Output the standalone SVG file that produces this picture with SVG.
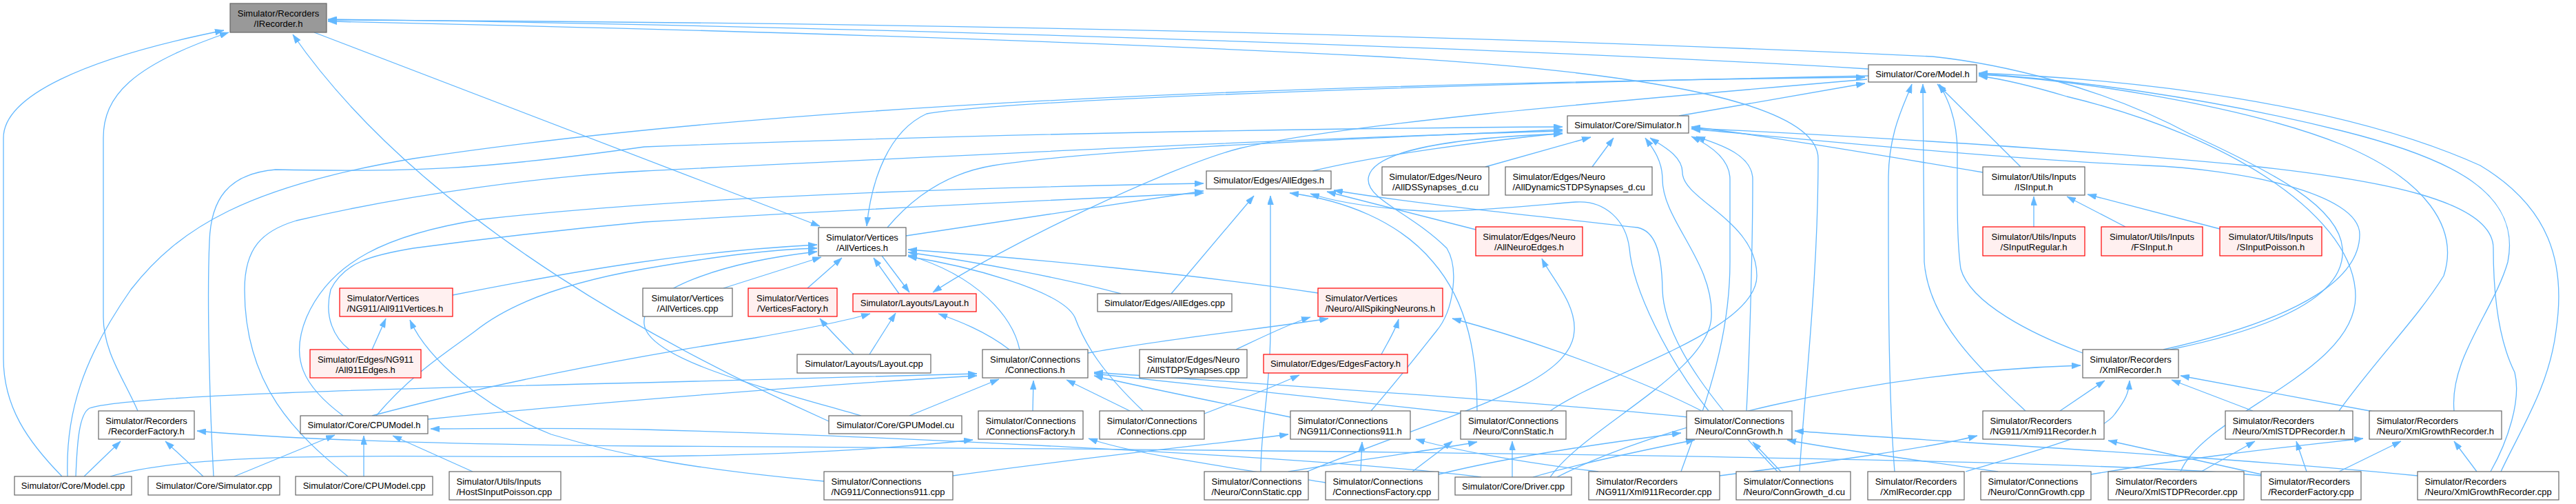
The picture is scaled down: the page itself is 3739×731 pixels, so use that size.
<svg xmlns="http://www.w3.org/2000/svg" width="3739" height="731" viewBox="0 0 3739 731">
<defs>
<style>
.e path{fill:none;stroke:#63b8ff;stroke-width:1.3;marker-end:url(#ah)}
.node rect{stroke-width:1.2}
.n rect{fill:#ffffff;stroke:#666666}
.r rect{fill:#fff0f0;stroke:#ff0000}
.g rect{fill:#999999;stroke:#666666}
.node text{font-family:"Liberation Sans",Arial,sans-serif;font-size:13px;fill:#000000}
.c{text-anchor:middle}
.l{text-anchor:start}
</style>
<marker id="ah" viewBox="0 0 13 9" refX="13" refY="4.5" markerWidth="13" markerHeight="9" markerUnits="userSpaceOnUse" orient="auto" preserveAspectRatio="none">
<path d="M0,0 L13,4.5 L0,9 z" fill="#63b8ff" stroke="#63b8ff" stroke-width="0.5"/>
</marker>
</defs>
<rect x="0" y="0" width="3739" height="731" fill="#ffffff"/>
<g id="edges" class="e">
<path d="M2712,100 C2300,75 1300,38 476,28"/>
<path d="M3150,507 C3330,470 3405,420 3400,360 C3395,300 3300,250 3180,195 C3050,125 2900,92 2805,82 C2000,45 1200,32 476,29"/>
<path d="M2612,684 C2620,560 2639,400 2639,230 C2639,170 2500,110 2000,82 C1500,56 900,40 476,31"/>
<path d="M90,691 C40,640 5,590 5,520 L5,200 C5,140 120,85 325,44"/>
<path d="M200,596 C180,550 150,510 150,460 L150,200 C150,140 190,95 332,47"/>
<path d="M1203,611 C1000,520 620,330 425,50"/>
<path d="M2437,168 L2707,121"/>
<path d="M2933,242 L2812,122"/>
<path d="M2750,684 C2740,560 2741,380 2741,260 C2741,190 2765,150 2775,122"/>
<path d="M3023,512 C2950,485 2860,440 2846,390 C2840,350 2841,280 2841,220 C2841,170 2825,140 2815,122"/>
<path d="M2940,596 C2880,540 2800,470 2793,380 L2791,122"/>
<path d="M3165,684 C3200,600 3419,540 3419,430 C3419,320 3250,200 3000,140 C2950,125 2910,115 2872,110"/>
<path d="M3395,596 C3450,520 3510,460 3547,400 C3570,330 3520,260 3400,210 C3250,150 3000,115 2872,108"/>
<path d="M3562,596 C3555,520 3620,450 3640,380 C3660,280 3560,230 3400,190 C3200,140 3000,115 2872,107"/>
<path d="M3630,684 C3660,620 3700,560 3710,480 C3725,380 3700,300 3600,240 C3400,150 3100,115 2872,106"/>
<path d="M98,691 C95,600 120,520 190,420 C260,330 360,270 600,230 C1000,170 1600,125 2707,112"/>
<path d="M2710,115 C2300,150 1950,180 1800,215 C1700,240 1450,360 1354,424"/>
<path d="M2712,110 C2300,118 1500,140 1345,165 C1290,190 1265,260 1258,328"/>
<path d="M505,691 C430,630 355,560 355,420 C355,360 380,335 430,320 C600,280 800,255 935,248 C1400,225 1900,200 2268,190"/>
<path d="M456,47 L1190,328"/>
<path d="M1050,418 L1192,373"/>
<path d="M1172,418 L1222,374"/>
<path d="M1305,426 L1268,374"/>
<path d="M1280,371 L1320,424"/>
<path d="M657,428 C850,390 1000,365 1186,355"/>
<path d="M546,603 C600,540 650,510 690,480 C740,440 820,410 935,390 C1050,370 1120,362 1186,360"/>
<path d="M1913,425 C1750,400 1500,375 1318,362"/>
<path d="M1627,426 C1550,405 1420,380 1318,366"/>
<path d="M1480,507 C1470,460 1420,400 1318,370"/>
<path d="M1659,596 C1600,540 1575,500 1560,460 C1540,420 1400,385 1318,372"/>
<path d="M1250,603 C1100,560 940,520 935,470 C930,420 1050,380 1186,365"/>
<path d="M1315,342 L1747,277"/>
<path d="M498,603 C440,560 420,520 445,460 C480,380 560,340 700,318 C1000,285 1400,272 1747,266"/>
<path d="M507,507 C485,490 470,460 480,420 C500,380 540,370 600,360 C750,340 850,330 935,322 C1300,300 1600,287 1747,280"/>
<path d="M1700,426 L1820,284"/>
<path d="M2142,333 L1926,278"/>
<path d="M1830,684 C1830,620 1844,560 1844,480 L1844,284"/>
<path d="M2144,596 C2144,520 2132,440 2080,380 C2030,320 1950,290 1872,280"/>
<path d="M2480,596 C2420,520 2370,420 2365,360 C2360,320 2330,290 2287,293 C2200,300 2100,310 2050,305 C1980,300 1930,290 1902,281"/>
<path d="M2580,684 C2500,600 2415,500 2413,420 C2412,360 2400,335 2377,330 C2200,310 2050,295 1936,276"/>
<path d="M1288,330 C1330,280 1380,250 1442,240 C1600,215 2000,200 2268,188"/>
<path d="M1905,248 C2000,225 2150,205 2268,193"/>
<path d="M310,691 C305,600 300,440 304,350 C306,290 330,252 400,246 C600,250 700,246 935,213 C1400,195 1900,186 2268,184"/>
<path d="M1990,596 C2030,550 2065,505 2085,480 C2110,450 2118,390 2100,360 C2050,310 1985,290 1986,260 C1988,220 2100,200 2268,194"/>
<path d="M2156,242 L2309,199"/>
<path d="M2311,242 L2342,200"/>
<path d="M2250,692 C2300,620 2480,540 2484,460 C2488,380 2413,320 2413,260 C2413,230 2395,210 2388,200"/>
<path d="M2250,596 C2330,540 2550,480 2550,400 C2550,320 2442,290 2442,250 C2442,225 2410,210 2395,200"/>
<path d="M2535,596 C2540,500 2544,350 2544,260 C2544,220 2480,205 2462,198"/>
<path d="M2440,684 C2470,600 2511,500 2511,380 L2511,260 C2511,225 2470,205 2455,198"/>
<path d="M2878,250 C2700,220 2550,195 2455,184"/>
<path d="M3140,507 C3350,460 3425,400 3425,340 C3425,280 3250,245 3115,240 C2900,230 2600,200 2455,187"/>
<path d="M3615,684 C3640,640 3660,580 3650,540 C3630,500 3619,440 3619,360 C3619,290 3450,260 3260,240 C3000,215 2650,195 2455,186"/>
<path d="M2952,329 L2952,285"/>
<path d="M3085,329 L3000,285"/>
<path d="M3222,332 L3030,282"/>
<path d="M1262,514 L1300,454"/>
<path d="M1465,507 C1430,480 1390,465 1362,455"/>
<path d="M540,603 C700,560 900,520 1096,490 C1180,475 1230,465 1263,455"/>
<path d="M1239,514 C1225,500 1205,480 1190,462"/>
<path d="M1748,600 C1800,580 1850,560 1886,544"/>
<path d="M110,691 C112,640 115,600 130,592 C180,575 500,565 935,555 C1150,550 1300,545 1418,542"/>
<path d="M621,608 C800,590 1150,560 1418,545"/>
<path d="M1320,603 L1450,550"/>
<path d="M1499,596 L1500,552"/>
<path d="M1640,596 L1548,551"/>
<path d="M1873,605 C1750,580 1650,560 1588,545"/>
<path d="M2125,600 C1950,580 1750,560 1588,542"/>
<path d="M2450,605 C2200,580 1800,555 1588,540"/>
<path d="M1579,512 C1700,490 1850,475 1928,462"/>
<path d="M1794,507 C1830,490 1870,470 1902,460"/>
<path d="M1895,685 C2100,600 2281,560 2285,480 C2288,440 2250,400 2238,375"/>
<path d="M2470,596 C2400,560 2250,500 2108,462"/>
<path d="M2005,514 C2015,495 2025,480 2030,463"/>
<path d="M160,691 C300,650 600,665 935,662 C1150,660 1300,650 1412,638"/>
<path d="M1924,700 C1800,680 1650,660 1580,636"/>
<path d="M1975,684 L1977,641"/>
<path d="M2320,684 C2200,670 2100,650 2055,637"/>
<path d="M1383,690 C1600,660 1800,640 1870,630"/>
<path d="M2050,684 L2108,640"/>
<path d="M1870,684 C1950,670 2100,650 2144,641"/>
<path d="M2195,692 L2195,640"/>
<path d="M2088,688 C2200,660 2350,640 2440,628"/>
<path d="M2225,692 C2300,670 2400,650 2460,638"/>
<path d="M2585,684 L2544,641"/>
<path d="M2900,684 C2800,670 2650,650 2594,638"/>
<path d="M3509,690 C3200,660 2800,640 2605,625"/>
<path d="M540,507 L560,462"/>
<path d="M1196,698 C1000,680 900,660 800,630 C700,590 620,520 595,464"/>
<path d="M340,691 L486,631"/>
<path d="M528,691 L528,632"/>
<path d="M686,684 L570,632"/>
<path d="M2150,692 C1900,660 1200,630 935,623 C800,620 700,622 625,622"/>
<path d="M122,691 L175,640"/>
<path d="M295,691 L240,640"/>
<path d="M3282,690 C3000,660 1500,650 935,647 C700,645 450,640 286,625"/>
<path d="M2990,596 L3055,552"/>
<path d="M2853,684 C2950,655 3050,630 3070,600 C3085,580 3090,570 3091,552"/>
<path d="M3270,596 L3152,551"/>
<path d="M3445,597 L3165,545"/>
<path d="M2260,692 C2400,620 2700,540 3020,530"/>
<path d="M2496,690 C2650,670 2800,650 2870,632"/>
<path d="M3282,688 L3060,639"/>
<path d="M3195,684 L3273,640"/>
<path d="M3348,684 L3333,640"/>
<path d="M3035,688 C3200,660 3350,645 3430,636"/>
<path d="M3395,684 L3485,640"/>
<path d="M3595,684 L3562,640"/>
</g>
<g id="irec" class="node g"><rect x="334" y="5" width="140" height="42"/><text class="c" x="404" y="23.5">Simulator/Recorders</text><text class="c" x="404" y="38.5">/IRecorder.h</text></g>
<g id="modelh" class="node n"><rect x="2712" y="94" width="157" height="25"/><text class="c" x="2790.5" y="111.5">Simulator/Core/Model.h</text></g>
<g id="simh" class="node n"><rect x="2275" y="168" width="176" height="25"/><text class="c" x="2363" y="185.5">Simulator/Core/Simulator.h</text></g>
<g id="alledgesh" class="node n"><rect x="1751" y="248" width="181" height="26"/><text class="c" x="1841.5" y="265.5">Simulator/Edges/AllEdges.h</text></g>
<g id="allds" class="node n"><rect x="2006" y="242" width="155" height="41"/><text class="c" x="2083.5" y="260.5">Simulator/Edges/Neuro</text><text class="c" x="2083.5" y="275.5">/AllDSSynapses_d.cu</text></g>
<g id="alldyn" class="node n"><rect x="2185" y="242" width="213" height="41"/><text class="l" x="2195.5" y="260.5">Simulator/Edges/Neuro</text><text class="l" x="2195.5" y="275.5">/AllDynamicSTDPSynapses_d.cu</text></g>
<g id="isinput" class="node n"><rect x="2878" y="242" width="148" height="41"/><text class="c" x="2952" y="260.5">Simulator/Utils/Inputs</text><text class="c" x="2952" y="275.5">/ISInput.h</text></g>
<g id="sreg" class="node r"><rect x="2878" y="329" width="148" height="42"/><text class="c" x="2952" y="347.5">Simulator/Utils/Inputs</text><text class="c" x="2952" y="362.5">/SInputRegular.h</text></g>
<g id="fsin" class="node r"><rect x="3050" y="329" width="147" height="42"/><text class="c" x="3123.5" y="347.5">Simulator/Utils/Inputs</text><text class="c" x="3123.5" y="362.5">/FSInput.h</text></g>
<g id="spois" class="node r"><rect x="3222" y="329" width="148" height="42"/><text class="c" x="3296" y="347.5">Simulator/Utils/Inputs</text><text class="c" x="3296" y="362.5">/SInputPoisson.h</text></g>
<g id="allvh" class="node n"><rect x="1188" y="330" width="127" height="41"/><text class="c" x="1251.5" y="348.5">Simulator/Vertices</text><text class="c" x="1251.5" y="363.5">/AllVertices.h</text></g>
<g id="allvcpp" class="node n"><rect x="933" y="418" width="130" height="41"/><text class="c" x="998" y="436.5">Simulator/Vertices</text><text class="c" x="998" y="451.5">/AllVertices.cpp</text></g>
<g id="vfact" class="node r"><rect x="1086" y="418" width="129" height="41"/><text class="c" x="1150.5" y="436.5">Simulator/Vertices</text><text class="c" x="1150.5" y="451.5">/VerticesFactory.h</text></g>
<g id="layouth" class="node r"><rect x="1238" y="426" width="179" height="26"/><text class="c" x="1327.5" y="443.5">Simulator/Layouts/Layout.h</text></g>
<g id="alledgescpp" class="node n"><rect x="1593" y="426" width="195" height="26"/><text class="c" x="1690.5" y="443.5">Simulator/Edges/AllEdges.cpp</text></g>
<g id="allneuro" class="node r"><rect x="2142" y="329" width="155" height="42"/><text class="c" x="2219.5" y="347.5">Simulator/Edges/Neuro</text><text class="c" x="2219.5" y="362.5">/AllNeuroEdges.h</text></g>
<g id="spiking" class="node r"><rect x="1913" y="418" width="181" height="41"/><text class="l" x="1923.5" y="436.5">Simulator/Vertices</text><text class="l" x="1923.5" y="451.5">/Neuro/AllSpikingNeurons.h</text></g>
<g id="v911" class="node r"><rect x="493" y="418" width="164" height="41"/><text class="l" x="503.5" y="436.5">Simulator/Vertices</text><text class="l" x="503.5" y="451.5">/NG911/All911Vertices.h</text></g>
<g id="e911" class="node r"><rect x="450" y="507" width="161" height="41"/><text class="c" x="530.5" y="525.5">Simulator/Edges/NG911</text><text class="c" x="530.5" y="540.5">/All911Edges.h</text></g>
<g id="recfacth" class="node n"><rect x="143" y="596" width="139" height="41"/><text class="c" x="212.5" y="614.5">Simulator/Recorders</text><text class="c" x="212.5" y="629.5">/RecorderFactory.h</text></g>
<g id="cpuh" class="node n"><rect x="436" y="603" width="185" height="26"/><text class="c" x="528.5" y="620.5">Simulator/Core/CPUModel.h</text></g>
<g id="modelcpp" class="node n"><rect x="21" y="691" width="170" height="27"/><text class="c" x="106" y="708.5">Simulator/Core/Model.cpp</text></g>
<g id="simcpp" class="node n"><rect x="215" y="691" width="191" height="27"/><text class="c" x="310.5" y="708.5">Simulator/Core/Simulator.cpp</text></g>
<g id="cpucpp" class="node n"><rect x="429" y="691" width="199" height="27"/><text class="c" x="528.5" y="708.5">Simulator/Core/CPUModel.cpp</text></g>
<g id="hostsin" class="node n"><rect x="652" y="684" width="162" height="41"/><text class="l" x="662.5" y="702.5">Simulator/Utils/Inputs</text><text class="l" x="662.5" y="717.5">/HostSInputPoisson.cpp</text></g>
<g id="layoutcpp" class="node n"><rect x="1157" y="514" width="194" height="27"/><text class="c" x="1254" y="531.5">Simulator/Layouts/Layout.cpp</text></g>
<g id="connh" class="node n"><rect x="1426" y="507" width="153" height="41"/><text class="c" x="1502.5" y="525.5">Simulator/Connections</text><text class="c" x="1502.5" y="540.5">/Connections.h</text></g>
<g id="stdpcpp" class="node n"><rect x="1654" y="507" width="156" height="41"/><text class="c" x="1732" y="525.5">Simulator/Edges/Neuro</text><text class="c" x="1732" y="540.5">/AllSTDPSynapses.cpp</text></g>
<g id="edgefact" class="node r"><rect x="1834" y="514" width="209" height="27"/><text class="c" x="1938.5" y="531.5">Simulator/Edges/EdgesFactory.h</text></g>
<g id="gpumodel" class="node n"><rect x="1203" y="603" width="193" height="26"/><text class="c" x="1299.5" y="620.5">Simulator/Core/GPUModel.cu</text></g>
<g id="connfacth" class="node n"><rect x="1420" y="596" width="152" height="41"/><text class="c" x="1496" y="614.5">Simulator/Connections</text><text class="c" x="1496" y="629.5">/ConnectionsFactory.h</text></g>
<g id="conncpp" class="node n"><rect x="1596" y="596" width="152" height="41"/><text class="c" x="1672" y="614.5">Simulator/Connections</text><text class="c" x="1672" y="629.5">/Connections.cpp</text></g>
<g id="conn911cpp" class="node n"><rect x="1196" y="684" width="187" height="41"/><text class="l" x="1206.5" y="702.5">Simulator/Connections</text><text class="l" x="1206.5" y="717.5">/NG911/Connections911.cpp</text></g>
<g id="connstaticcpp" class="node n"><rect x="1748" y="684" width="151" height="41"/><text class="l" x="1758.5" y="702.5">Simulator/Connections</text><text class="l" x="1758.5" y="717.5">/Neuro/ConnStatic.cpp</text></g>
<g id="conn911h" class="node n"><rect x="1873" y="596" width="174" height="41"/><text class="l" x="1883.5" y="614.5">Simulator/Connections</text><text class="l" x="1883.5" y="629.5">/NG911/Connections911.h</text></g>
<g id="connstatich" class="node n"><rect x="2120" y="596" width="153" height="41"/><text class="c" x="2196.5" y="614.5">Simulator/Connections</text><text class="c" x="2196.5" y="629.5">/Neuro/ConnStatic.h</text></g>
<g id="conngrowthh" class="node n"><rect x="2448" y="596" width="153" height="41"/><text class="c" x="2524.5" y="614.5">Simulator/Connections</text><text class="c" x="2524.5" y="629.5">/Neuro/ConnGrowth.h</text></g>
<g id="connfactcpp" class="node n"><rect x="1924" y="684" width="164" height="41"/><text class="l" x="1934.5" y="702.5">Simulator/Connections</text><text class="l" x="1934.5" y="717.5">/ConnectionsFactory.cpp</text></g>
<g id="driver" class="node n"><rect x="2112" y="692" width="169" height="26"/><text class="c" x="2196.5" y="709.5">Simulator/Core/Driver.cpp</text></g>
<g id="xml911cpp" class="node n"><rect x="2306" y="684" width="190" height="41"/><text class="l" x="2316.5" y="702.5">Simulator/Recorders</text><text class="l" x="2316.5" y="717.5">/NG911/Xml911Recorder.cpp</text></g>
<g id="conngrowthcu" class="node n"><rect x="2520" y="684" width="166" height="41"/><text class="l" x="2530.5" y="702.5">Simulator/Connections</text><text class="l" x="2530.5" y="717.5">/Neuro/ConnGrowth_d.cu</text></g>
<g id="xmlreccpp" class="node n"><rect x="2711" y="684" width="140" height="41"/><text class="c" x="2781" y="702.5">Simulator/Recorders</text><text class="c" x="2781" y="717.5">/XmlRecorder.cpp</text></g>
<g id="xmlrech" class="node n"><rect x="3023" y="507" width="139" height="41"/><text class="c" x="3092.5" y="525.5">Simulator/Recorders</text><text class="c" x="3092.5" y="540.5">/XmlRecorder.h</text></g>
<g id="xml911h" class="node n"><rect x="2878" y="596" width="176" height="41"/><text class="l" x="2888.5" y="614.5">Simulator/Recorders</text><text class="l" x="2888.5" y="629.5">/NG911/Xml911Recorder.h</text></g>
<g id="xmlstdph" class="node n"><rect x="3230" y="596" width="185" height="41"/><text class="l" x="3240.5" y="614.5">Simulator/Recorders</text><text class="l" x="3240.5" y="629.5">/Neuro/XmlSTDPRecorder.h</text></g>
<g id="xmlgrowthh" class="node n"><rect x="3439" y="596" width="192" height="41"/><text class="l" x="3449.5" y="614.5">Simulator/Recorders</text><text class="l" x="3449.5" y="629.5">/Neuro/XmlGrowthRecorder.h</text></g>
<g id="conngrowthcpp" class="node n"><rect x="2875" y="684" width="160" height="41"/><text class="l" x="2885.5" y="702.5">Simulator/Connections</text><text class="l" x="2885.5" y="717.5">/Neuro/ConnGrowth.cpp</text></g>
<g id="xmlstdpcpp" class="node n"><rect x="3060" y="684" width="197" height="41"/><text class="l" x="3070.5" y="702.5">Simulator/Recorders</text><text class="l" x="3070.5" y="717.5">/Neuro/XmlSTDPRecorder.cpp</text></g>
<g id="recfactcpp" class="node n"><rect x="3282" y="684" width="145" height="41"/><text class="l" x="3292.5" y="702.5">Simulator/Recorders</text><text class="l" x="3292.5" y="717.5">/RecorderFactory.cpp</text></g>
<g id="xmlgrowthcpp" class="node n"><rect x="3509" y="684" width="205" height="41"/><text class="l" x="3519.5" y="702.5">Simulator/Recorders</text><text class="l" x="3519.5" y="717.5">/Neuro/XmlGrowthRecorder.cpp</text></g>
</svg>
